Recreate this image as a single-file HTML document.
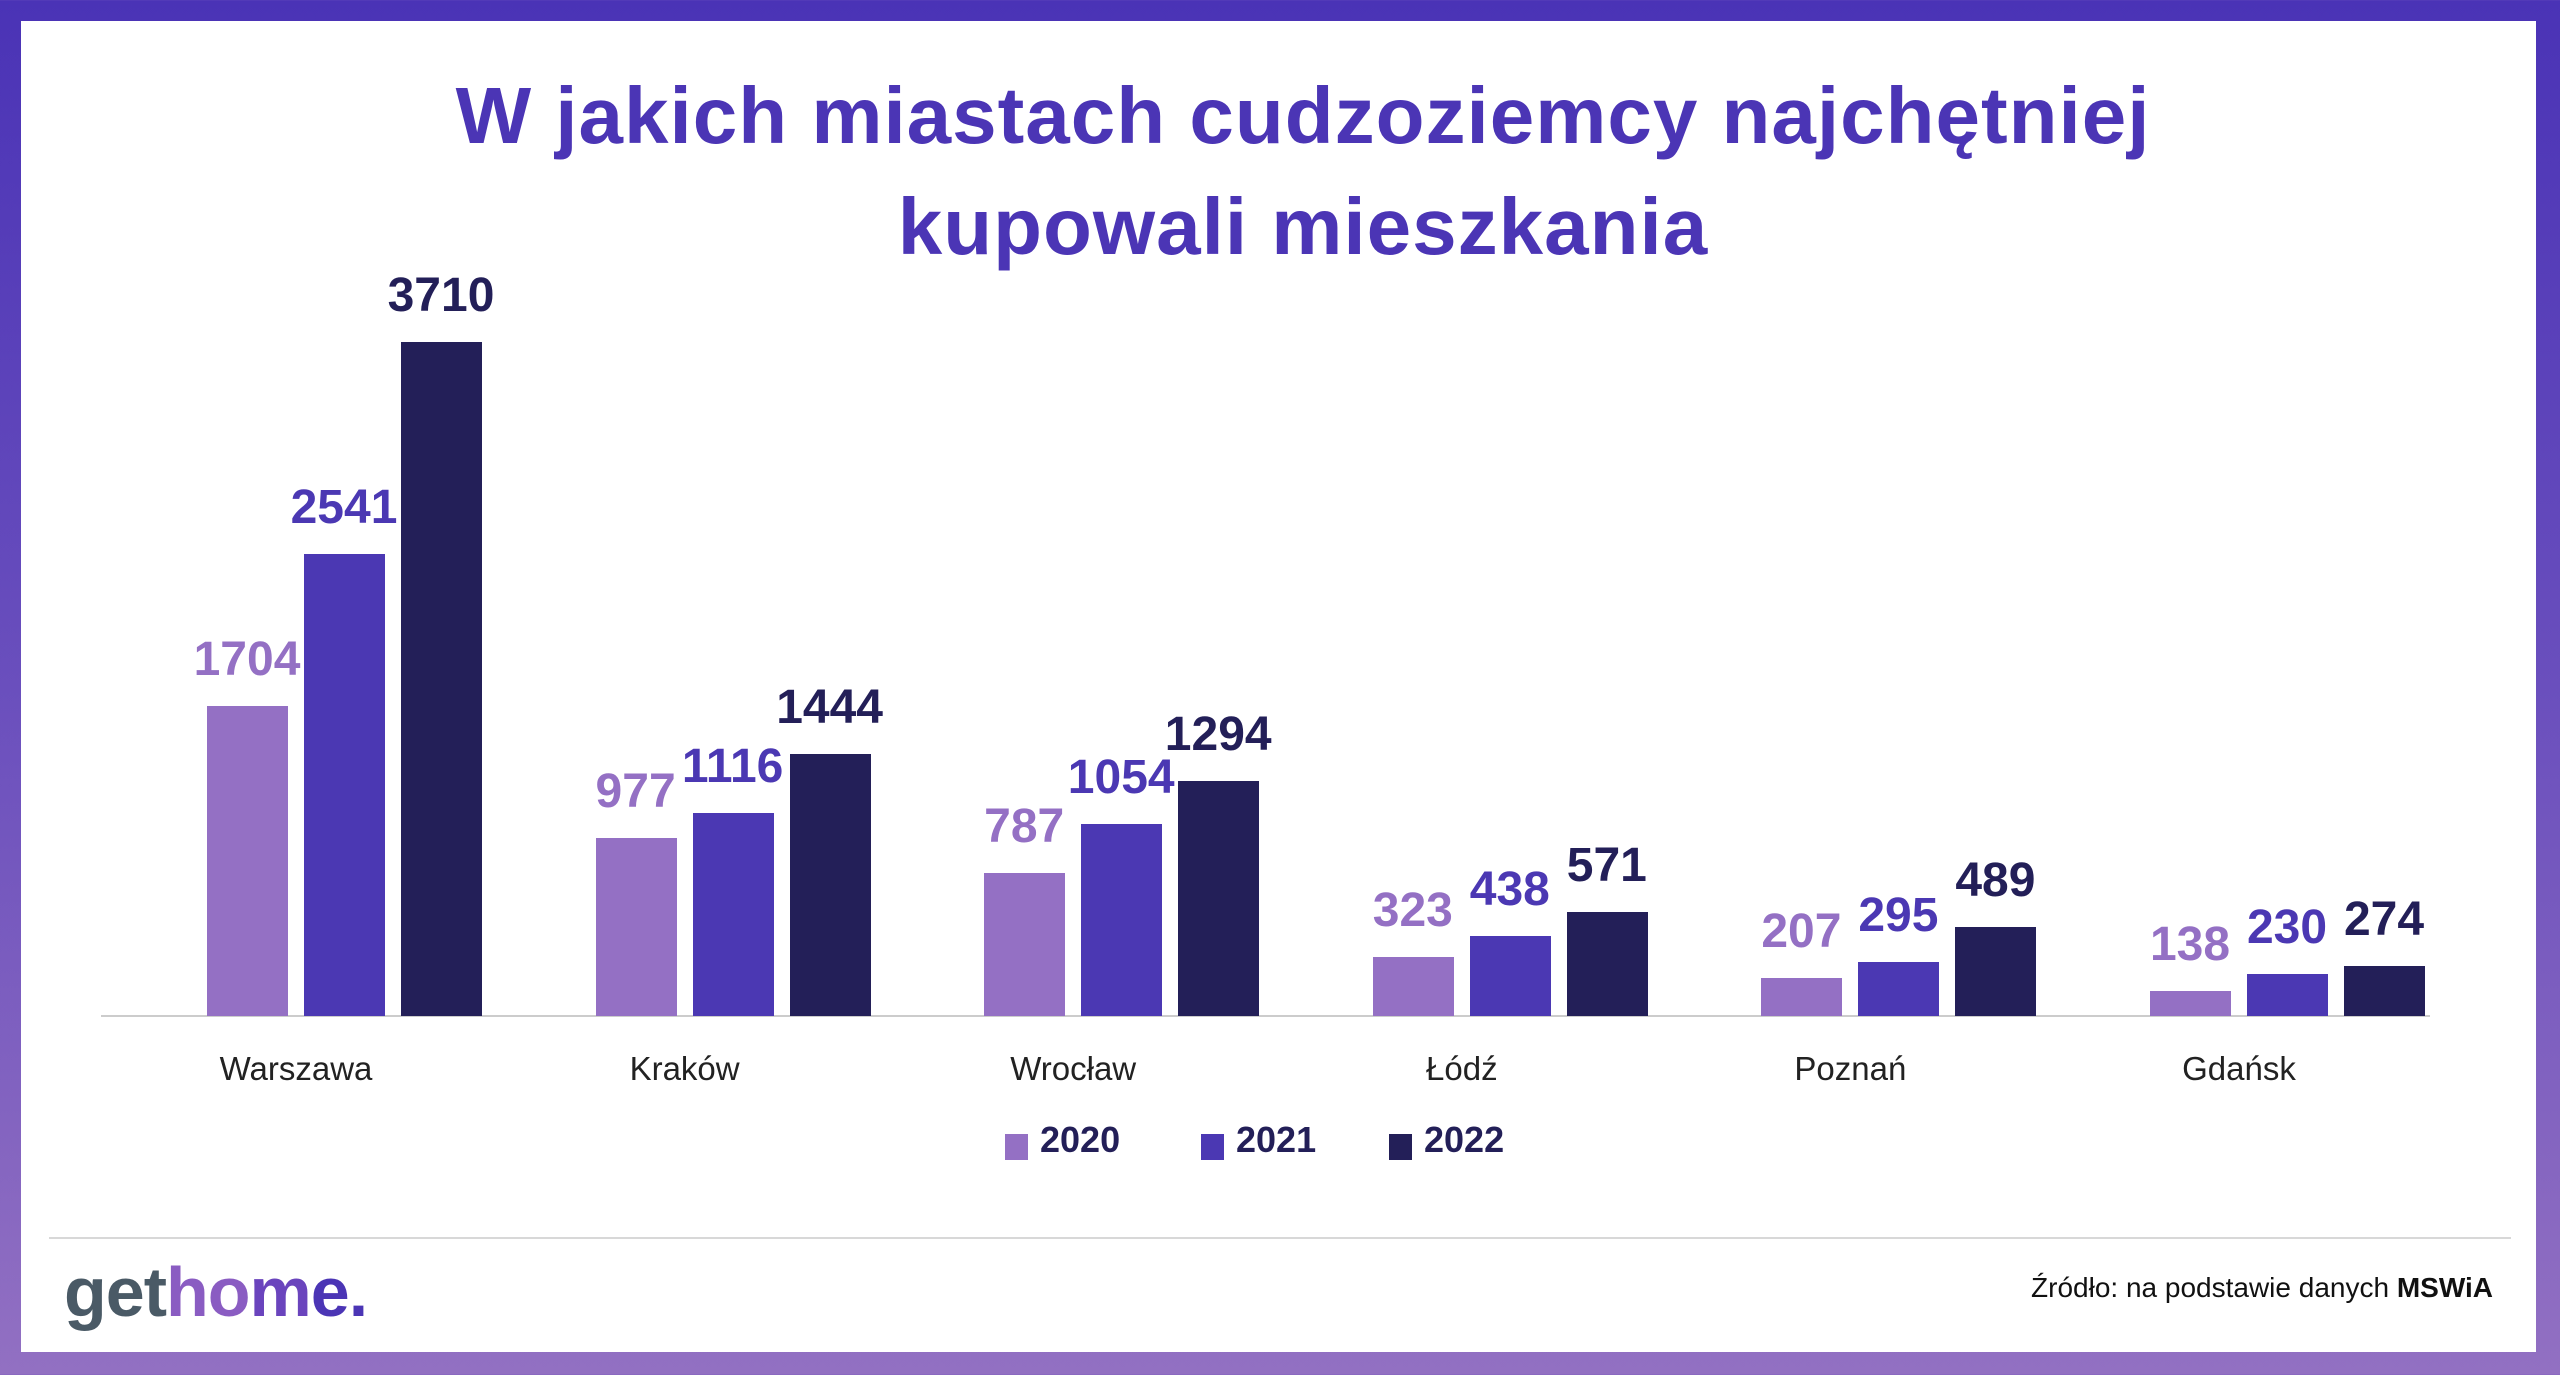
<!DOCTYPE html>
<html><head><meta charset="utf-8"><style>
*{margin:0;padding:0;box-sizing:border-box}
body{width:2560px;height:1375px;overflow:hidden;background:linear-gradient(180deg,#4a33b6 0%,#6a4fbd 50%,#9270c2 100%);font-family:"Liberation Sans",sans-serif;position:relative}
#w{position:absolute;left:21px;top:21px;width:2515px;height:1331px;background:#fff}
.a{position:absolute}
.t{left:23px;width:2560px;text-align:center;color:#4b35b5;font-weight:bold;font-size:80px;letter-spacing:1px}
.bar{position:absolute;width:81px}
.v{position:absolute;width:200px;text-align:center;font-weight:bold;font-size:48px;line-height:48px}
.c{position:absolute;width:300px;text-align:center;font-size:33px;color:#222;top:1050px}
.c1{background:#9470c4;color:#9470c4}.c2{background:#4b38b3;color:#4b38b3}.c3{background:#231f58;color:#231f58}
</style></head><body>
<div id="w"></div>
<div class="a t" style="top:70px">W jakich miastach cudzoziemcy najchętniej</div>
<div class="a t" style="top:181px">kupowali mieszkania</div>
<div class="a" style="left:101px;top:1015px;width:2329px;height:2px;background:#ccc"></div>
<div id="bars"></div>
<div class="a" style="left:49px;top:1237px;width:2462px;height:2px;background:#d8d8d8"></div>
<div class="a" style="left:1005px;top:1134px;width:23px;height:26px;background:#9470c4"></div>
<div class="a" style="left:1040px;top:1119px;font-size:36px;font-weight:bold;color:#231f58">2020</div>
<div class="a" style="left:1201px;top:1134px;width:23px;height:26px;background:#4b38b3"></div>
<div class="a" style="left:1236px;top:1119px;font-size:36px;font-weight:bold;color:#231f58">2021</div>
<div class="a" style="left:1389px;top:1134px;width:23px;height:26px;background:#231f58"></div>
<div class="a" style="left:1424px;top:1119px;font-size:36px;font-weight:bold;color:#231f58">2022</div>
<div class="a" style="left:64px;top:1252px;font-size:70px;font-weight:bold;letter-spacing:-1px"><span style="color:#4a5a66">get</span><span style="color:#8a5cc2">ho</span><span style="color:#6a44bd">m</span><span style="color:#4b35b5">e.</span></div>
<div class="a" style="right:67px;top:1272px;font-size:28px;color:#111">Źródło: na podstawie danych <b>MSWiA</b></div>
<script>
var d=[["Warszawa",1704,2541,3710],["Kraków",977,1116,1444],["Wrocław",787,1054,1294],["Łódź",323,438,571],["Poznań",207,295,489],["Gdańsk",138,230,274]];
var h="",k=0.1817,base=1016;
d.forEach(function(g,i){var x0=207+i*388.6;
for(var j=0;j<3;j++){var x=x0+j*97,ht=g[j+1]*k,top=base-ht;
h+='<div class="bar c'+(j+1)+'" style="left:'+x+'px;top:'+top+'px;height:'+ht+'px"></div>';
h+='<div class="v c'+(j+1)+'" style="background:none;left:'+(x+40-100)+'px;top:'+(top-70)+'px">'+g[j+1]+'</div>';}
h+='<div class="c" style="left:'+(x0+89-150)+'px">'+g[0]+'</div>';});
document.getElementById("bars").innerHTML=h;
</script>
</body></html>
